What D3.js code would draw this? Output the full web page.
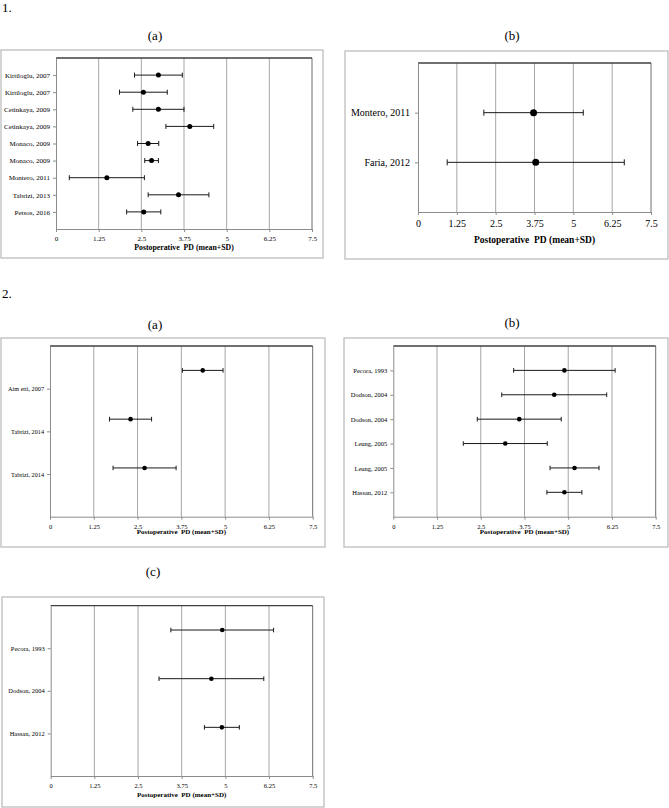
<!DOCTYPE html>
<html>
<head>
<meta charset="utf-8">
<script src="https://cdn.jsdelivr.net/npm/d3@7"></script>
<style>
  html, body { margin: 0; padding: 0; background: #fff; }
  svg { display: block; }
  text { font-family: "Liberation Serif", "Times New Roman", serif; fill: #000; }
</style>
</head>
<body>
<svg id="chart" width="669" height="808"></svg>
<script>
// ---------- DATA ----------
const xTickValues = [0, 1.25, 2.5, 3.75, 5, 6.25, 7.5];
const xTickLabels = ["0", "1.25", "2.5", "3.75", "5", "6.25", "7.5"];
const axisTitle = "Postoperative  PD (mean+SD)";

// Figure 1 (a)
const f1aStudies = ["Kirtiloglu, 2007", "Kirtiloglu, 2007", "Cetinkaya, 2009", "Cetinkaya, 2009",
  "Monaco, 2009", "Monaco, 2009", "Montero, 2011", "Tabrizi, 2013", "Petsos, 2016"];
const f1aMeans = [3.0, 2.56, 3.0, 3.92, 2.7, 2.8, 1.49, 3.59, 2.57];
const f1aSDs   = [0.70, 0.70, 0.75, 0.70, 0.31, 0.20, 1.10, 0.89, 0.50];

// Figure 1 (b)
const f1bStudies = ["Montero, 2011", "Faria, 2012"];
const f1bMeans = [3.72, 3.79];
const f1bSDs   = [1.60, 2.85];

// Figure 2 (a)
const f2aStudies = ["Aim etti, 2007", "Tabrizi, 2014", "Tabrizi, 2014"];
const f2aMeans = [4.36, 2.30, 2.70];
const f2aSDs   = [0.58, 0.60, 0.90];
const f2aPointRows = [1, 3, 5];
const f2aLabelRows = [1.75, 3.5, 5.25];

// Figure 2 (b)
const f2bStudies = ["Pecora, 1993", "Dodson, 2004", "Dodson, 2004", "Leung, 2005", "Leung, 2005", "Hassan, 2012"];
const f2bMeans = [4.89, 4.60, 3.60, 3.20, 5.18, 4.89];
const f2bSDs   = [1.45, 1.50, 1.20, 1.20, 0.70, 0.50];

// Figure 2 (c)
const f2cStudies = ["Pecora, 1993", "Dodson, 2004", "Hassan, 2012"];
const f2cMeans = [4.91, 4.60, 4.90];
const f2cSDs   = [1.47, 1.50, 0.50];
const f2cPointRows = [1, 3, 5];
const f2cLabelRows = [1.75, 3.5, 5.25];

// ---------- DRAWING ----------
const svg = d3.select("#chart");

function drawPanel(cfg) {
  const g = svg.append("g");
  // outer chart frame
  g.append("rect")
    .attr("x", cfg.box[0]).attr("y", cfg.box[1])
    .attr("width", cfg.box[2] - cfg.box[0]).attr("height", cfg.box[3] - cfg.box[1])
    .attr("fill", "#fff").attr("stroke", "#bdbdbd").attr("stroke-width", 1.3);

  // panel title
  g.append("text").attr("x", cfg.titleX).attr("y", cfg.titleY)
    .attr("text-anchor", "middle").attr("font-size", 13).attr("fill", "#000").text(cfg.title);

  const x = d3.scaleLinear().domain([0, 7.5]).range([cfg.x0, cfg.x1]);
  const y = d3.scaleLinear().domain([0, cfg.yMax]).range([cfg.y0, cfg.y1]);

  // gridlines
  g.append("g").selectAll("line")
    .data(xTickValues.filter(v => v > 0 && v < 7.5))
    .join("line")
    .attr("x1", d => x(d)).attr("x2", d => x(d))
    .attr("y1", cfg.y0).attr("y2", cfg.y1)
    .attr("stroke", "#a6a6a6").attr("stroke-width", 1);
  // right border at 7.5
  g.append("line").attr("x1", x(7.5)).attr("x2", x(7.5)).attr("y1", cfg.y0).attr("y2", cfg.y1)
    .attr("stroke", "#6e6e6e").attr("stroke-width", 1);
  // top border
  g.append("line").attr("x1", x(0)).attr("x2", x(7.5)).attr("y1", cfg.y0).attr("y2", cfg.y0)
    .attr("stroke", "#404040").attr("stroke-width", 1.3);

  // bottom axis
  const xAxis = d3.axisBottom(x).tickValues(xTickValues)
    .tickFormat((d, i) => xTickLabels[i]).tickSize(3).tickSizeOuter(0);
  const ga = g.append("g").attr("transform", `translate(0,${cfg.y1})`).call(xAxis);
  ga.select(".domain").attr("stroke", "#8c8c8c");
  ga.selectAll(".tick line").attr("stroke", "#8c8c8c");
  ga.selectAll(".tick text").attr("font-size", cfg.tickFont).attr("fill", "#000")
    .attr("font-family", "Liberation Serif, serif").attr("dy", cfg.tickDy);

  // left axis
  const labelRows = cfg.labelRows;
  const yAxis = d3.axisLeft(y).tickValues(labelRows)
    .tickFormat((d, i) => cfg.studies[i]).tickSize(3).tickSizeOuter(0).tickPadding(cfg.labelPad);
  const gy = g.append("g").attr("transform", `translate(${cfg.x0},0)`).call(yAxis);
  gy.select(".domain").attr("stroke", "#8c8c8c");
  gy.selectAll(".tick line").attr("stroke", "#8c8c8c");
  gy.selectAll(".tick text").attr("font-size", cfg.labelFont).attr("fill", "#000")
    .attr("font-family", "Liberation Serif, serif");

  // axis title
  g.append("text").attr("x", (cfg.x0 + cfg.x1) / 2).attr("y", cfg.axisTitleY)
    .attr("text-anchor", "middle").attr("font-size", cfg.axisTitleFont).attr("fill", "#000")
    .attr("font-weight", "bold").attr("xml:space", "preserve").style("white-space", "pre")
    .text(axisTitle);

  // error bars + points
  const rows = cfg.means.map((m, i) => ({ m, sd: cfg.sds[i], r: cfg.pointRows[i] }));
  const eb = g.append("g").attr("stroke", "#1a1a1a").attr("stroke-width", 1);
  eb.selectAll("line.bar").data(rows).join("line").attr("class", "bar")
    .attr("x1", d => x(d.m - d.sd)).attr("x2", d => x(d.m + d.sd))
    .attr("y1", d => y(d.r)).attr("y2", d => y(d.r));
  eb.selectAll("line.capL").data(rows).join("line").attr("class", "capL")
    .attr("x1", d => x(d.m - d.sd)).attr("x2", d => x(d.m - d.sd))
    .attr("y1", d => y(d.r) - cfg.cap).attr("y2", d => y(d.r) + cfg.cap);
  eb.selectAll("line.capR").data(rows).join("line").attr("class", "capR")
    .attr("x1", d => x(d.m + d.sd)).attr("x2", d => x(d.m + d.sd))
    .attr("y1", d => y(d.r) - cfg.cap).attr("y2", d => y(d.r) + cfg.cap);
  g.append("g").selectAll("circle").data(rows).join("circle")
    .attr("cx", d => x(d.m)).attr("cy", d => y(d.r)).attr("r", cfg.dotR).attr("fill", "#000");
}

// figure numbers
svg.append("text").attr("x", 2).attr("y", 12).attr("font-size", 13).text("1.");
svg.append("text").attr("x", 2).attr("y", 298).attr("font-size", 13).text("2.");

const rows1a = f1aStudies.map((_, i) => i + 1);
drawPanel({
  title: "(a)", titleX: 155, titleY: 40,
  box: [1, 50, 323, 258], x0: 56, x1: 312, y0: 58, y1: 229, yMax: 10,
  studies: f1aStudies, means: f1aMeans, sds: f1aSDs, pointRows: rows1a, labelRows: rows1a,
  tickFont: 7, tickDy: "0.9em", labelFont: 7, labelPad: 3, axisTitleY: 250, axisTitleFont: 7.8,
  cap: 2.5, dotR: 2.5
});

const rows1b = f1bStudies.map((_, i) => i + 1);
drawPanel({
  title: "(b)", titleX: 512, titleY: 40,
  box: [345, 51, 668, 259], x0: 418, x1: 651, y0: 63, y1: 212, yMax: 3,
  studies: f1bStudies, means: f1bMeans, sds: f1bSDs, pointRows: rows1b, labelRows: rows1b,
  tickFont: 10, tickDy: "0.9em", labelFont: 10, labelPad: 5, axisTitleY: 243, axisTitleFont: 9.5,
  cap: 3, dotR: 3.5
});

drawPanel({
  title: "(a)", titleX: 155, titleY: 329,
  box: [1, 338, 325, 547], x0: 50, x1: 312.7, y0: 346, y1: 516.7, yMax: 7,
  studies: f2aStudies, means: f2aMeans, sds: f2aSDs, pointRows: f2aPointRows, labelRows: f2aLabelRows,
  tickFont: 6.5, tickDy: "0.9em", labelFont: 6.2, labelPad: 3, axisTitleY: 534, axisTitleFont: 7,
  cap: 2.3, dotR: 2.3
});

const rows2b = f2bStudies.map((_, i) => i + 1);
drawPanel({
  title: "(b)", titleX: 512, titleY: 327,
  box: [344, 338, 668, 547], x0: 393.3, x1: 655.7, y0: 346, y1: 516.7, yMax: 7,
  studies: f2bStudies, means: f2bMeans, sds: f2bSDs, pointRows: rows2b, labelRows: rows2b,
  tickFont: 6.5, tickDy: "0.9em", labelFont: 6.5, labelPad: 3, axisTitleY: 534, axisTitleFont: 7,
  cap: 2.3, dotR: 2.3
});

drawPanel({
  title: "(c)", titleX: 153, titleY: 576,
  box: [2, 597, 324, 807], x0: 50.7, x1: 312.7, y0: 605.7, y1: 776, yMax: 7,
  studies: f2cStudies, means: f2cMeans, sds: f2cSDs, pointRows: f2cPointRows, labelRows: f2cLabelRows,
  tickFont: 6.5, tickDy: "0.9em", labelFont: 6.5, labelPad: 3, axisTitleY: 797, axisTitleFont: 7,
  cap: 2.3, dotR: 2.3
});
</script>
</body>
</html>
